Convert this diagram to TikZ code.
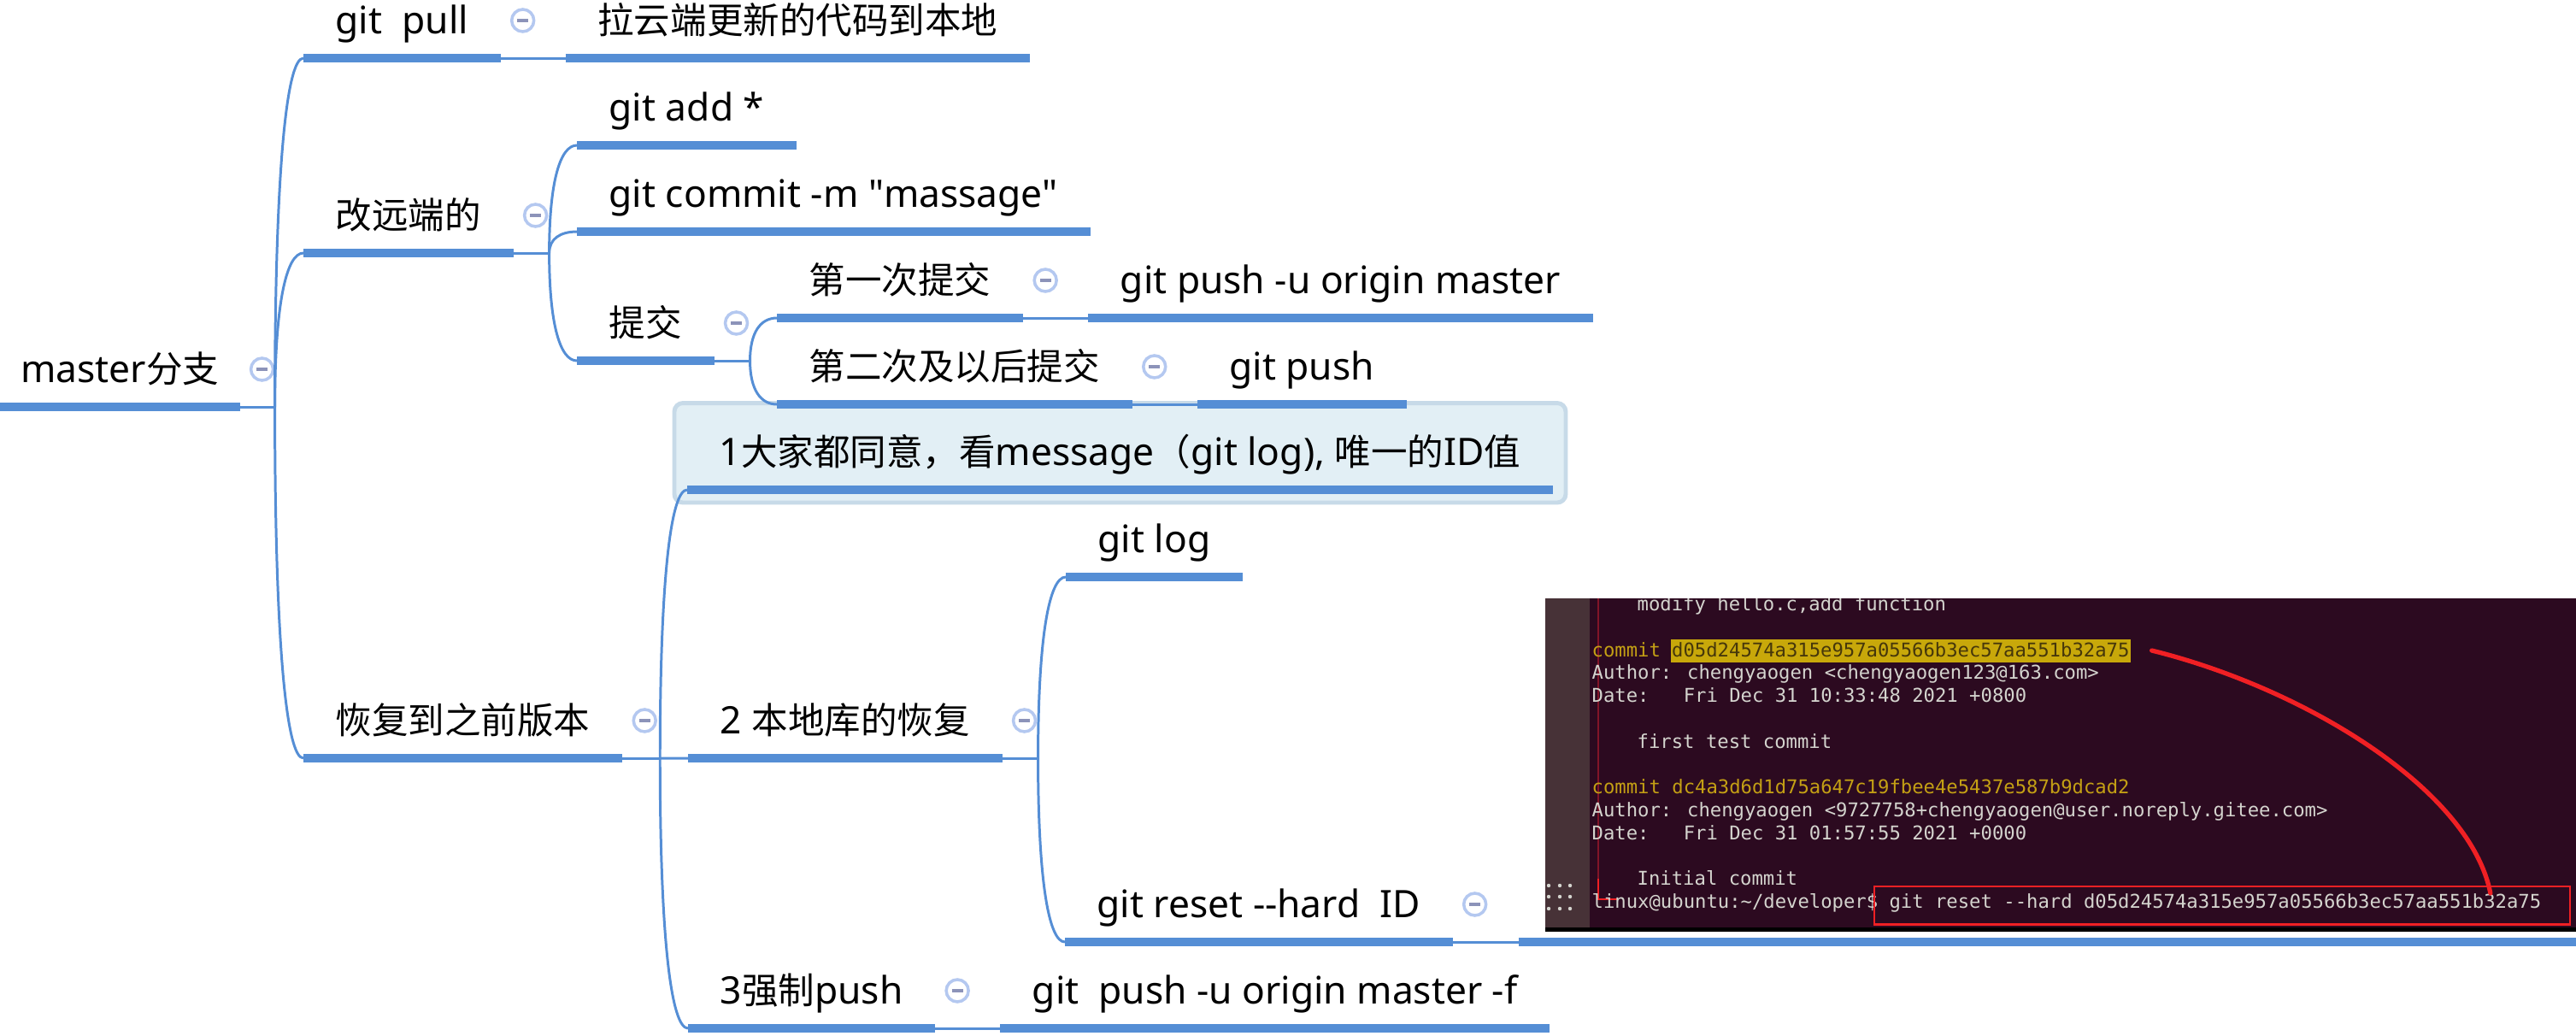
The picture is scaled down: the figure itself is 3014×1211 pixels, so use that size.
\documentclass[tikz,border=0pt]{standalone}
\usepackage{fontspec}
\setmainfont{Noto Sans}
\newfontfamily\cjk[Scale=0.96]{Noto Sans CJK SC}
\newfontfamily\termfont{DejaVu Sans Mono}
\usepackage{tikz}
\usetikzlibrary{positioning, calc, backgrounds, fit}
\definecolor{xmblue}{RGB}{85,142,213}
\definecolor{foldring}{RGB}{180,200,240}
\definecolor{foldbar}{RGB}{140,147,185}
\definecolor{notefill}{RGB}{226,239,245}
\definecolor{noteedge}{RGB}{199,218,232}
\definecolor{termbg}{RGB}{44,10,32}
\definecolor{termside}{RGB}{71,50,55}
\definecolor{termtext}{RGB}{212,212,206}
\definecolor{termyellow}{RGB}{196,160,20}
\definecolor{hlyellow}{RGB}{200,168,10}
\definecolor{hltext}{RGB}{70,55,10}
\definecolor{markred}{RGB}{240,32,36}
\definecolor{dimred}{RGB}{130,20,40}
\newcommand{\topicfont}{\fontsize{12.6}{15}\selectfont}
\newcommand{\termsize}{\fontsize{6.32}{7.6}\selectfont}

\begin{document}
\begin{tikzpicture}[
  x=0.01cm, y=-0.01cm,
  node distance=0.76cm,
  topic/.style={anchor=south west, inner xsep=0.37cm, inner ysep=0pt, text height=0.45cm, text depth=0.28cm, font=\topicfont},
  bar/.style={draw=xmblue, line width=2.6pt},
  link/.style={draw=xmblue, line width=0.85pt},
  branch/.style={link, to path={.. controls ($(\tikztostart)!0.67!(\tikztostart |- \tikztotarget)$) and ($(\tikztotarget)!0.6!(\tikztostart |- \tikztotarget)$) .. (\tikztotarget)}},
  fold/.style={circle, draw=foldring, line width=1pt, fill=white, minimum size=0.26cm, inner sep=0pt,
    path picture={\draw[foldbar, line width=0.9pt] ([xshift=-0.065cm]path picture bounding box.center) -- ([xshift=0.065cm]path picture bounding box.center);}},
  notebox/.style={rectangle, rounded corners=0.1cm, fill=notefill, draw=noteedge, line width=1.4pt, inner xsep=0.15cm, inner ysep=0.15cm},
  shotbox/.style={anchor=south west, minimum width=12.37cm, minimum height=4.02cm, inner sep=0pt},
  term/.style={anchor=base west, inner sep=0pt, text=termtext, font=\termfont\termsize},
  redmark/.style={draw=markred, line width=0.7pt, inner sep=0pt, anchor=north west}
]
\useasboundingbox (0,0) rectangle (3014,1211);

% root and first level
\node[topic, inner xsep=0.19cm, minimum width=2.79cm] (root) at (0,476) {master{\cjk 分支}};
\node[topic] (pull) at (355,68) {git\ \ pull};
\node[topic, right=of pull] (fetch) {{\cjk 拉云端更新的代码到本地}};
\node[topic] (remote) at (355,296) {{\cjk 改远端的}};
\node[topic] (restore) at (355,887) {{\cjk 恢复到之前版本}};

% change the remote
\node[topic] (add) at (675,170) {git add *};
\node[topic] (commit) at (675,271) {git commit -m \textquotedbl massage\textquotedbl};
\node[topic] (submit) at (675,422) {{\cjk 提交}};
\node[topic] (first) at (909,372) {{\cjk 第一次提交}};
\node[topic, right=of first] (pushu) {git push -u origin master};
\node[topic] (later) at (909,473) {{\cjk 第二次及以后提交}};
\node[topic, right=of later] (push) {git push};

% restore an older version
\node[topic, text height=0.57cm] (agree) at (804,573) {1{\cjk 大家都同意，看}message{\cjk （}git log), {\cjk 唯一的}ID{\cjk 值}};
\node[topic] (local) at (805,887) {2 {\cjk 本地库的恢复}};
\node[topic] (log) at (1247,675) {git log};
\node[topic] (reset) at (1246,1102) {git reset -{}-hard\ \ ID};
\node[shotbox] (shot) at ([xshift=0.77cm]reset.south east) {};
\node[topic] (force) at (805,1203) {3{\cjk 强制}push};
\node[topic, right=of force] (pushf) {git\ \ push -u origin master -f};

\begin{scope}[on background layer]
  \node[notebox, fit=(agree)] (agreebox) {};
\end{scope}

% collapse buttons
\node[fold] (rootfold) at ([xshift=0.26cm, yshift=0.44cm]root.south east) {};
\node[fold] (pullfold) at ([xshift=0.26cm, yshift=0.44cm]pull.south east) {};
\node[fold] (remotefold) at ([xshift=0.26cm, yshift=0.44cm]remote.south east) {};
\node[fold] (submitfold) at ([xshift=0.26cm, yshift=0.44cm]submit.south east) {};
\node[fold] (firstfold) at ([xshift=0.26cm, yshift=0.44cm]first.south east) {};
\node[fold] (laterfold) at ([xshift=0.26cm, yshift=0.44cm]later.south east) {};
\node[fold] (restorefold) at ([xshift=0.26cm, yshift=0.44cm]restore.south east) {};
\node[fold] (localfold) at ([xshift=0.26cm, yshift=0.44cm]local.south east) {};
\node[fold] (resetfold) at ([xshift=0.26cm, yshift=0.44cm]reset.south east) {};
\node[fold] (forcefold) at ([xshift=0.26cm, yshift=0.44cm]force.south east) {};

% junctions
\coordinate (rootjoin) at ([xshift=0.41cm]root.south east);
\coordinate (remotejoin) at ([xshift=0.42cm]remote.south east);
\coordinate (submitjoin) at ([xshift=0.42cm]submit.south east);
\coordinate (restorejoin) at ([xshift=0.44cm]restore.south east);
\coordinate (localjoin) at ([xshift=0.42cm]local.south east);

% connectors
\draw[link] (root.south east) -- (rootjoin);
\draw[branch] (rootjoin) to (pull.south west);
\draw[branch] (rootjoin) to (remote.south west);
\draw[branch] (rootjoin) to (restore.south west);
\draw[link] (pull.south east) -- (fetch.south west);
\draw[link] (remote.south east) -- (remotejoin);
\draw[branch] (remotejoin) to (add.south west);
\draw[branch] (remotejoin) to (commit.south west);
\draw[branch] (remotejoin) to (submit.south west);
\draw[link] (submit.south east) -- (submitjoin);
\draw[branch] (submitjoin) to (first.south west);
\draw[branch] (submitjoin) to (later.south west);
\draw[link] (first.south east) -- (pushu.south west);
\draw[link] (later.south east) -- (push.south west);
\draw[link] (restore.south east) -- (restorejoin);
\draw[branch] (restorejoin) to (agree.south west);
\draw[branch] (restorejoin) to (local.south west);
\draw[branch] (restorejoin) to (force.south west);
\draw[link] (local.south east) -- (localjoin);
\draw[branch] (localjoin) to (log.south west);
\draw[branch] (localjoin) to (reset.south west);
\draw[link] (reset.south east) -- (shot.south west);
\draw[link] (force.south east) -- (pushf.south west);

% underline bars
\draw[bar] (root.south west) -- (root.south east);
\draw[bar] (pull.south west) -- (pull.south east);
\draw[bar] (fetch.south west) -- (fetch.south east);
\draw[bar] (remote.south west) -- (remote.south east);
\draw[bar] (add.south west) -- (add.south east);
\draw[bar] (commit.south west) -- (commit.south east);
\draw[bar] (submit.south west) -- (submit.south east);
\draw[bar] (first.south west) -- (first.south east);
\draw[bar] (pushu.south west) -- (pushu.south east);
\draw[bar] (later.south west) -- (later.south east);
\draw[bar] (push.south west) -- (push.south east);
\draw[bar] (restore.south west) -- (restore.south east);
\draw[bar] (agree.south west) -- (agree.south east);
\draw[bar] (local.south west) -- (local.south east);
\draw[bar] (log.south west) -- (log.south east);
\draw[bar] (reset.south west) -- (reset.south east);
\draw[bar] (shot.south west) -- (shot.south east);
\draw[bar] (force.south west) -- (force.south east);
\draw[bar] (pushf.south west) -- (pushf.south east);

% terminal screenshot
\begin{scope}
  \clip (1808,700) rectangle (3014,1090);
  \fill[termbg] (1808,700) rectangle (3014,1090);
  \fill[termside] (1808,700) rectangle (1860,1090);
  \fill[black] (1808,1085) rectangle (3014,1090);
  \fill[termtext] (1812,1036) circle (0.022cm) (1825,1036) circle (0.022cm) (1837,1036) circle (0.022cm)
    (1812,1049) circle (0.022cm) (1825,1049) circle (0.022cm) (1837,1049) circle (0.022cm)
    (1812,1063) circle (0.022cm) (1825,1063) circle (0.022cm) (1837,1063) circle (0.022cm);
  \draw[dimred, line width=0.6pt] (1870,700) -- (1870,1028);
  \draw[markred, line width=0.7pt] (1870,1028) -- (1870,1052) -- (1893,1052);

  \node[term] (line0) at (1915,714) {modify hello.c,add function};
  \node[term, text=termyellow] (commit1) at (1862,768) {commit};
  \node[term, fill=hlyellow, text=hltext, text height=0.19cm, text depth=0.05cm, inner xsep=0.015cm, inner ysep=0.015cm] (hash1) at (1954,768) {d05d24574a315e957a05566b3ec57aa551b32a75};
  \node[term] (author1) at (1862,794.4) {Author: chengyaogen <chengyaogen123@163.com>};
  \node[term] (date1) at (1862,821) {Date:\ \ \ Fri Dec 31 10:33:48 2021 +0800};
  \node[term] (msg1) at (1915,875) {first test commit};
  \node[term, text=termyellow] (commit2) at (1862,928.4) {commit dc4a3d6d1d75a647c19fbee4e5437e587b9dcad2};
  \node[term] (author2) at (1862,955) {Author: chengyaogen <9727758+chengyaogen@user.noreply.gitee.com>};
  \node[term] (date2) at (1862,982) {Date:\ \ \ Fri Dec 31 01:57:55 2021 +0000};
  \node[term] (msg2) at (1915,1035.6) {Initial commit};
  \node[term] (prompt) at (1862,1062.4) {linux@ubuntu:\textasciitilde/developer\$ git reset -{}-hard d05d24574a315e957a05566b3ec57aa551b32a75};
  \node[redmark, minimum width=8.13cm, minimum height=0.44cm] (markbox) at (2192,1036) {};
  \draw[markred, line width=1.5pt, line cap=round] ([xshift=0.24cm]hash1.east) .. controls +(178,44) and +(-24,-122) .. ([xshift=-0.94cm, yshift=-0.09cm]markbox.north east);
\end{scope}

\end{tikzpicture}
\end{document}
